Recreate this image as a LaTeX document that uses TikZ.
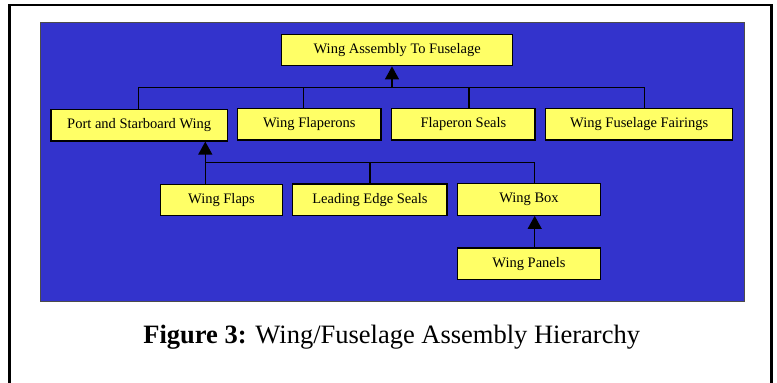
\documentclass[tikz,border=0pt]{standalone}
\usepackage{fontspec}
\setmainfont{Liberation Serif}
\usetikzlibrary{arrows.meta}
\definecolor{panelblue}{RGB}{51,51,204}
\definecolor{boxyellow}{RGB}{255,255,102}
\tikzset{
  part/.style={draw=black, line width=1.3pt, fill=boxyellow, inner sep=0pt,
    minimum height=31.5pt, font=\fontsize{14.5}{16}\selectfont, text=black},
  link/.style={line width=1.3pt, draw=black},
  uparrow/.style={link, -{Triangle[width=14pt,length=13pt]}}
}
\begin{document}
\begin{tikzpicture}[x=1pt,y=-1pt]
\useasboundingbox (0,0) rectangle (777,383);
\fill[white] (0,0) rectangle (777,383);
% outer frame
\draw[line width=2.5pt] (9.5,390) -- (9.5,5.2) -- (771.5,5.2) -- (771.5,390);
% blue panel
\draw[fill=panelblue, draw=black!70, line width=1pt] (40,22.7) rectangle (744,301);

\node[part, minimum width=231pt]   (top)   at (397.2,50)    {Wing Assembly To Fuselage};
\node[part, minimum width=176.3pt] (port)  at (139.2,125.2) {Port and Starboard Wing};
\node[part, minimum width=143.3pt] (flpr)  at (309.3,124.3) {Wing Flaperons};
\node[part, minimum width=143.3pt] (seals) at (463.4,124.3) {Flaperon Seals};
\node[part, minimum width=187pt]   (fair)  at (639.2,124.3) {Wing Fuselage Fairings};
\node[part, minimum width=121.6pt] (flaps) at (221.5,200)   {Wing Flaps};
\node[part, minimum width=154.3pt] (les)   at (369.9,199.6) {Leading Edge Seals};
\node[part, minimum width=143.4pt] (box)   at (529,199.5)   {Wing Box};
\node[part, minimum width=143.4pt] (panels) at (529,263.8)  {Wing Panels};

\coordinate (bus1) at (0,87.3);
\coordinate (bus2) at (0,162.3);

% level 1
\draw[link] ([xshift=-0.5pt]port.north) |- ([xshift=5.1pt]fair.north |- bus1) -- ([xshift=5.1pt]fair.north);
\draw[link] ([xshift=-5.6pt]flpr.north) -- ([xshift=-5.6pt]flpr.north |- bus1);
\draw[link] ([xshift=5.6pt]seals.north) -- ([xshift=5.6pt]seals.north |- bus1);
\draw[uparrow] ([xshift=-5.2pt]top.south |- bus1) -- ([xshift=-5.2pt]top.south);

% level 2
\draw[link] ([xshift=-16.2pt]flaps.north) |- ([xshift=5.7pt]box.north |- bus2) -- ([xshift=5.7pt]box.north);
\draw[link] (les.north) -- (les.north |- bus2);
\draw[uparrow] ([xshift=66.1pt]port.south |- bus2) -- ([xshift=66.1pt]port.south);

% level 3
\draw[uparrow] ([xshift=5.7pt]panels.north) -- ([xshift=5.7pt]box.south);

% caption
\node[anchor=base, inner sep=0pt, font=\fontsize{26.5}{30}\selectfont] (cap) at (391.7,343)
  {\textbf{Figure 3:} Wing/Fuselage Assembly Hierarchy};
\end{tikzpicture}
\end{document}
